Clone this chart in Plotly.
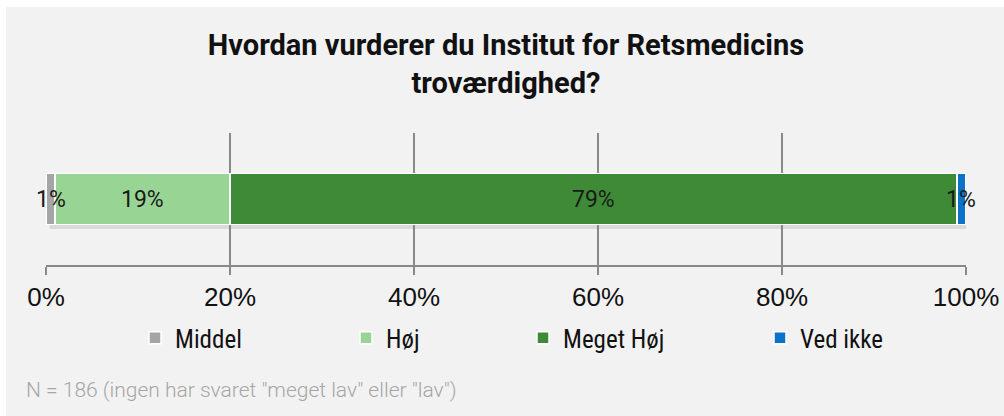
import plotly.graph_objects as go

categories = ["Middel", "Høj", "Meget Høj", "Ved ikke"]
values = [1, 19, 79, 1]
labels = ["1%", "19%", "79%", "1%"]
colors = ["#A5A5A5", "#98D594", "#3E8A36", "#0A72C8"]
tick_vals = [0, 20, 40, 60, 80, 100]
tick_text = ["0%", "20%", "40%", "60%", "80%", "100%"]
title_text = "Hvordan vurderer du Institut for Retsmedicins<br>troværdighed?"
footnote = 'N = 186 (ingen har svaret "meget lav" eller "lav")'

W, H = 1004, 416
L, R, T, B = 46, 38, 133, 151
pw, ph = W - L - R, H - T - B

def px_x(p):
    return (p - L) / pw

def px_y(p):
    return (H - B - p) / ph

cond = "Roboto Condensed, DejaVu Sans Condensed, sans-serif"
arial = "Liberation Sans, Arial, sans-serif"

fig = go.Figure()
legend_text_starts = [175, 386, 563, 800]
cum = 0
for i, (c, v, col) in enumerate(zip(categories, values, colors)):
    lname = "legend" if i == 0 else f"legend{i+1}"
    fig.add_trace(go.Bar(
        y=["q"], x=[v], orientation="h", name=c,
        marker=dict(color=col, line=dict(color="white", width=1.5)),
        width=0.39, legend=lname, hoverinfo="skip",
    ))
    fig.add_annotation(x=cum + v / 2, y="q", xref="x", yref="y", text=labels[i],
                       showarrow=False, font=dict(size=23, color="#1a1a1a", family="Roboto, sans-serif"))
    cum += v

legends = {}
for i, s in enumerate(legend_text_starts):
    lname = "legend" if i == 0 else f"legend{i+1}"
    legends[lname] = dict(
        x=px_x(s - 40), y=px_y(338), xanchor="left", yanchor="middle",
        orientation="h", bgcolor="rgba(0,0,0,0)",
        font=dict(size=25, color="#111111", family=cond),
        itemwidth=30,
    )

total = sum(values)
fig.update_layout(
    width=W, height=H,
    margin=dict(l=L, r=R, t=T, b=B, autoexpand=False),
    paper_bgcolor="white",
    plot_bgcolor="rgba(0,0,0,0)",
    barmode="stack",
    showlegend=True,
    title=dict(text=title_text, x=0.5, xref="paper", xanchor="center",
               y=1 - 55 / H, yanchor="middle",
               font=dict(size=29, color="#111111", family="Roboto, sans-serif", weight="bold")),
    xaxis=dict(range=[0, 100], tickvals=tick_vals, ticktext=tick_text,
               showgrid=True, gridcolor="#898989", gridwidth=1.5,
               showline=True, linecolor="#898989", linewidth=1.5,
               ticks="outside", ticklen=8, tickcolor="#898989", tickwidth=1.5,
               zeroline=False, fixedrange=True, automargin=False,
               tickfont=dict(size=26, color="#111111", family=arial)),
    yaxis=dict(showticklabels=False, showgrid=False, zeroline=False,
               range=[-0.5, 0.5], fixedrange=True, automargin=False),
    shapes=[
        dict(type="rect", xref="paper", yref="paper", layer="below",
             x0=px_x(6), x1=px_x(W + 2), y0=px_y(H + 2), y1=px_y(7),
             fillcolor="#F2F2F2", line=dict(width=0)),
        dict(type="rect", xref="x", yref="paper", layer="below",
             x0=0.4, x1=total + 0.4, y0=px_y(229), y1=px_y(177),
             fillcolor="rgba(0,0,0,0.10)", line=dict(width=0)),
    ],
    **legends,
)

fig.add_annotation(xref="paper", yref="paper", x=px_x(24), y=px_y(390),
                   xanchor="left", yanchor="middle", showarrow=False,
                   text=footnote,
                   font=dict(size=21, color="#A6A6A6", family="Roboto, sans-serif", weight=300))

fig.write_html("out.html", config={"displayModeBar": False},
               post_script="document.body.style.margin='0';")
